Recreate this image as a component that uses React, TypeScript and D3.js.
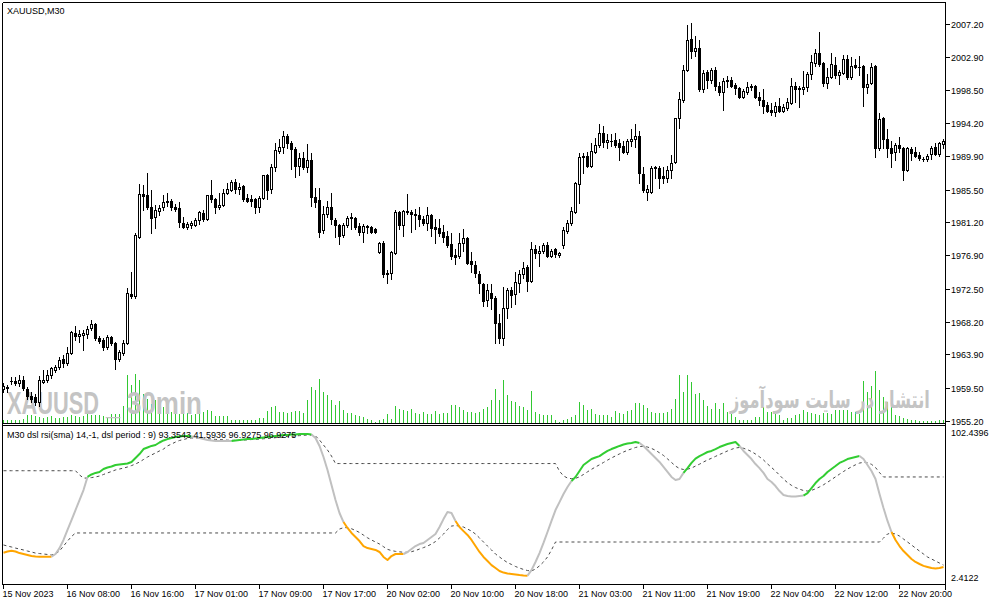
import React, { useLayoutEffect, useRef } from "react";
import * as d3 from "d3";

const SYMBOL_LABEL = "XAUUSD,M30";
const IND_LABEL = "M30 dsl rsi(sma) 14,-1, dsl period : 9) 93.3543 41.5936 96.9275 96.9275";
const WM_SYMBOL = "XAUUSD";
const WM_SEP = "_";
const WM_TF = "30min";
const WM_RIGHT = "انتشار در سایت سودآموز";

const PRICE_MIN = 1955.2;
const PRICE_MAX = 2007.2;
const PRICE_TICKS = [2007.2, 2002.9, 1998.5, 1994.2, 1989.9, 1985.5, 1981.2, 1976.9, 1972.5, 1968.2, 1963.9, 1959.5, 1955.2];
const IND_MIN = 2.4122;
const IND_MAX = 102.4396;
const VOL_MAX = 1500;

const TIME_LABELS = ["15 Nov 2023", "16 Nov 08:00", "16 Nov 16:00", "17 Nov 01:00", "17 Nov 09:00", "17 Nov 17:00", "20 Nov 02:00", "20 Nov 10:00", "20 Nov 18:00", "21 Nov 03:00", "21 Nov 11:00", "21 Nov 19:00", "22 Nov 04:00", "22 Nov 12:00", "22 Nov 20:00"];
const TIME_LABEL_BARS = [0, 16, 32, 48, 64, 80, 96, 112, 128, 144, 160, 176, 192, 208, 224];

const OPEN = [
  1959.3, 1959.6, 1960.4, 1960.4, 1960.1, 1960.6, 1959.3, 1958.5, 1958.3, 1957.6,
  1960.3, 1960.5, 1961.2, 1961.8, 1962.3, 1963.3, 1962.7, 1964.1, 1966.7, 1966.3,
  1966.4, 1966.5, 1967.3, 1967.9, 1966.0, 1965.8, 1964.8, 1966.2, 1965.4, 1963.3,
  1964.1, 1965.4, 1971.8, 1971.5, 1979.3, 1984.9, 1984.8, 1983.2, 1981.9, 1982.7,
  1983.2, 1983.9, 1984.0, 1983.2, 1983.1, 1981.1, 1980.6, 1980.8, 1980.8, 1981.5,
  1982.4, 1981.6, 1984.8, 1984.3, 1983.2, 1983.5, 1985.0, 1985.4, 1986.5, 1985.6,
  1986.0, 1984.4, 1984.3, 1984.3, 1983.2, 1984.4, 1987.4, 1985.6, 1988.4, 1990.5,
  1991.1, 1992.5, 1991.6, 1990.8, 1988.6, 1989.6, 1988.4, 1989.4, 1984.5, 1984.1,
  1980.2, 1982.3, 1983.2, 1981.5, 1980.8, 1979.5, 1980.8, 1981.8, 1981.8, 1980.7,
  1980.0, 1980.7, 1980.6, 1980.3, 1977.3, 1978.5, 1974.5, 1974.5, 1977.2, 1982.5,
  1980.8, 1982.5, 1982.5, 1982.3, 1982.1, 1981.6, 1981.1, 1982.1, 1980.6, 1980.4,
  1979.9, 1979.4, 1978.3, 1976.9, 1976.8, 1978.5, 1979.1, 1976.1, 1975.6, 1974.4,
  1973.1, 1971.0, 1972.0, 1971.3, 1968.0, 1966.0, 1970.0, 1972.3, 1971.8, 1973.2,
  1974.4, 1975.3, 1973.5, 1977.7, 1977.2, 1977.4, 1978.2, 1976.8, 1977.7, 1976.9,
  1978.2, 1980.1, 1981.1, 1982.5, 1986.2, 1989.9, 1989.9, 1988.6, 1990.4, 1991.3,
  1992.9, 1991.7, 1991.9, 1992.0, 1991.6, 1991.2, 1990.4, 1991.9, 1992.1, 1992.5,
  1987.5, 1985.2, 1985.2, 1988.4, 1988.3, 1987.3, 1987.0, 1988.1, 1989.1, 1994.9,
  1997.2, 2001.2, 2005.2, 2003.7, 2004.1, 1998.7, 2000.9, 1999.9, 2001.2, 1999.1,
  1998.3, 1999.9, 1999.9, 1999.2, 1998.8, 1997.6, 1998.3, 1999.1, 1999.1, 1997.6,
  1997.2, 1996.6, 1995.9, 1995.7, 1996.4, 1995.8, 1996.2, 1996.8, 1999.1, 1998.7,
  1998.7, 1998.9, 2000.6, 2002.1, 2003.4, 2002.1, 1999.5, 2000.3, 2001.8, 2000.5,
  2000.8, 2002.6, 2000.3, 2001.8, 2001.6, 2001.7, 1998.9, 1999.5, 2001.7, 1990.9,
  1994.9, 1992.1, 1990.9, 1990.4, 1991.3, 1990.9, 1988.1, 1990.8, 1990.4, 1990.0,
  1989.5, 1989.5, 1990.2, 1991.1, 1990.2, 1991.5,
];

const HIGH = [
  1960.1, 1959.9, 1960.9, 1960.9, 1961.2, 1961.0, 1959.6, 1958.9, 1958.7, 1961.0,
  1961.8, 1961.8, 1962.3, 1962.5, 1963.5, 1963.8, 1964.8, 1966.9, 1967.6, 1967.1,
  1967.1, 1967.6, 1968.4, 1968.0, 1966.3, 1966.0, 1966.4, 1966.3, 1965.5, 1964.5,
  1965.8, 1972.6, 1974.7, 1979.8, 1986.2, 1986.1, 1987.7, 1985.4, 1983.5, 1983.5,
  1984.8, 1985.0, 1984.2, 1983.6, 1983.9, 1981.9, 1981.2, 1981.4, 1981.8, 1982.7,
  1982.8, 1984.8, 1986.7, 1984.4, 1985.0, 1985.6, 1986.3, 1986.7, 1986.9, 1986.3,
  1986.1, 1984.9, 1984.8, 1984.4, 1984.6, 1987.4, 1987.5, 1988.8, 1991.6, 1992.1,
  1993.2, 1992.8, 1991.9, 1991.1, 1990.3, 1990.4, 1991.5, 1990.3, 1985.7, 1985.7,
  1983.3, 1984.0, 1985.0, 1981.8, 1981.0, 1981.1, 1982.0, 1982.4, 1981.9, 1981.1,
  1981.0, 1980.8, 1980.7, 1980.4, 1978.6, 1978.7, 1974.9, 1977.4, 1982.8, 1982.7,
  1982.8, 1984.9, 1982.8, 1983.0, 1983.2, 1982.0, 1983.2, 1982.3, 1981.6, 1981.6,
  1980.8, 1980.1, 1979.8, 1977.7, 1979.8, 1980.3, 1979.3, 1977.3, 1976.1, 1974.8,
  1973.2, 1973.1, 1973.1, 1971.5, 1969.2, 1972.7, 1972.6, 1972.7, 1974.7, 1974.9,
  1976.0, 1975.6, 1978.6, 1978.2, 1978.1, 1978.5, 1978.6, 1977.7, 1977.8, 1977.3,
  1980.6, 1981.5, 1983.2, 1986.5, 1990.3, 1990.3, 1990.4, 1991.6, 1992.3, 1994.1,
  1993.8, 1992.8, 1992.8, 1992.9, 1992.1, 1991.9, 1992.1, 1993.4, 1994.1, 1993.2,
  1988.4, 1986.1, 1988.6, 1988.6, 1988.6, 1988.4, 1988.6, 1990.0, 1994.9, 1998.3,
  2001.8, 2007.1, 2007.3, 2005.6, 2005.1, 2001.2, 2001.2, 2001.4, 2001.6, 1999.6,
  2000.1, 2000.4, 2000.3, 1999.5, 1998.9, 1998.7, 1999.6, 1999.3, 1999.2, 1998.3,
  1998.7, 1997.0, 1996.8, 1997.0, 1997.5, 1996.7, 1997.5, 2000.1, 1999.6, 1999.1,
  2001.0, 2000.9, 2003.1, 2003.9, 2006.2, 2002.2, 2001.4, 2003.4, 2002.9, 2001.2,
  2003.1, 2003.1, 2002.9, 2002.6, 2003.0, 2001.8, 2000.6, 2002.1, 2001.8, 1995.5,
  1995.0, 1993.4, 1991.9, 1991.6, 1992.4, 1991.1, 1991.1, 1991.1, 1991.1, 1990.4,
  1989.8, 1990.2, 1991.2, 1991.6, 1991.7, 1992.1,
];

const LOW = [
  1958.9, 1958.9, 1960.0, 1959.9, 1959.7, 1959.2, 1958.0, 1957.6, 1957.2, 1957.1,
  1960.1, 1960.3, 1960.8, 1961.6, 1962.0, 1962.3, 1962.5, 1963.9, 1965.8, 1965.5,
  1964.5, 1966.0, 1967.1, 1965.8, 1965.4, 1964.5, 1964.6, 1965.1, 1962.0, 1963.0,
  1963.8, 1965.2, 1971.3, 1971.3, 1979.1, 1982.8, 1983.0, 1979.8, 1980.4, 1982.2,
  1982.8, 1983.3, 1982.8, 1982.7, 1980.6, 1980.4, 1980.3, 1980.4, 1980.7, 1981.0,
  1981.4, 1981.5, 1983.9, 1982.4, 1983.0, 1983.3, 1984.9, 1985.3, 1985.0, 1984.9,
  1984.0, 1983.9, 1983.3, 1982.4, 1982.5, 1984.3, 1984.3, 1985.0, 1987.9, 1990.3,
  1990.3, 1991.0, 1988.2, 1987.1, 1987.4, 1988.2, 1987.8, 1983.3, 1983.2, 1979.3,
  1979.8, 1981.9, 1981.0, 1979.3, 1978.4, 1979.3, 1980.6, 1980.3, 1980.3, 1979.5,
  1978.6, 1979.8, 1979.8, 1979.8, 1977.2, 1974.0, 1973.2, 1973.8, 1977.0, 1980.3,
  1979.4, 1982.3, 1979.9, 1980.3, 1980.7, 1980.8, 1980.2, 1979.4, 1978.5, 1979.4,
  1978.6, 1978.0, 1976.4, 1975.7, 1976.5, 1977.4, 1975.7, 1974.7, 1974.0, 1971.9,
  1970.2, 1970.2, 1969.9, 1965.4, 1965.4, 1965.1, 1968.6, 1970.1, 1970.5, 1972.1,
  1973.9, 1972.2, 1973.4, 1976.5, 1975.5, 1977.2, 1976.6, 1976.6, 1976.6, 1976.6,
  1977.9, 1979.8, 1980.8, 1982.4, 1983.7, 1987.7, 1988.4, 1988.4, 1990.3, 1991.1,
  1991.1, 1991.0, 1991.2, 1991.1, 1989.4, 1990.3, 1990.2, 1991.2, 1991.1, 1986.3,
  1985.2, 1984.1, 1985.0, 1987.0, 1985.7, 1986.3, 1986.5, 1987.0, 1989.0, 1993.6,
  1997.0, 2001.0, 2002.7, 2003.0, 1998.4, 1998.3, 1998.8, 1999.5, 1998.5, 1997.9,
  1995.9, 1998.9, 1998.9, 1998.0, 1997.5, 1997.5, 1998.0, 1998.5, 1997.5, 1996.6,
  1995.5, 1995.7, 1995.3, 1995.1, 1995.7, 1995.7, 1995.9, 1996.7, 1997.0, 1996.3,
  1998.0, 1998.4, 2000.0, 2001.7, 2001.7, 1999.1, 1998.8, 2000.1, 2000.1, 1999.3,
  2000.6, 2000.0, 2000.0, 2001.4, 2000.5, 1996.4, 1998.1, 1999.3, 1989.8, 1990.7,
  1990.9, 1989.8, 1988.4, 1989.4, 1990.4, 1986.7, 1987.9, 1989.4, 1989.8, 1989.4,
  1989.2, 1989.2, 1989.5, 1990.0, 1989.9, 1990.9,
];

const CLOSE = [
  1959.7, 1959.5, 1960.4, 1960.1, 1960.5, 1959.5, 1958.5, 1958.0, 1957.6, 1960.6,
  1960.6, 1961.2, 1962.1, 1962.2, 1963.1, 1962.7, 1964.1, 1966.8, 1966.3, 1966.5,
  1966.7, 1967.2, 1967.9, 1966.0, 1965.6, 1964.8, 1966.2, 1965.4, 1963.3, 1964.2,
  1965.4, 1971.9, 1971.5, 1979.5, 1984.9, 1984.6, 1983.2, 1981.8, 1982.8, 1983.1,
  1983.9, 1984.0, 1983.2, 1982.9, 1981.2, 1980.6, 1981.0, 1981.1, 1981.5, 1982.5,
  1981.6, 1984.8, 1984.3, 1983.2, 1983.5, 1985.0, 1985.6, 1986.5, 1985.6, 1985.8,
  1984.3, 1984.0, 1984.0, 1983.2, 1984.4, 1987.4, 1985.4, 1988.4, 1990.7, 1991.1,
  1992.5, 1991.6, 1990.8, 1988.6, 1989.6, 1988.4, 1989.4, 1984.5, 1983.9, 1980.0,
  1982.3, 1983.2, 1981.6, 1980.8, 1979.4, 1980.8, 1981.8, 1981.9, 1980.6, 1980.0,
  1980.7, 1980.6, 1980.0, 1979.9, 1978.5, 1974.4, 1974.4, 1977.3, 1982.5, 1980.8,
  1982.7, 1982.7, 1982.3, 1982.1, 1981.6, 1981.1, 1982.1, 1980.4, 1980.3, 1979.8,
  1979.3, 1978.2, 1976.8, 1976.6, 1978.5, 1979.1, 1975.9, 1975.7, 1974.5, 1973.2,
  1970.9, 1972.3, 1971.3, 1968.0, 1966.0, 1970.0, 1972.3, 1971.7, 1973.4, 1974.4,
  1975.2, 1973.5, 1977.7, 1977.2, 1977.4, 1978.2, 1976.8, 1977.4, 1977.0, 1977.2,
  1980.2, 1981.1, 1982.7, 1986.3, 1989.8, 1989.8, 1988.6, 1990.5, 1991.3, 1992.9,
  1991.7, 1992.0, 1991.8, 1991.3, 1991.1, 1990.4, 1991.9, 1992.1, 1992.5, 1987.7,
  1985.4, 1985.6, 1988.3, 1988.3, 1987.0, 1987.0, 1988.1, 1989.0, 1994.9, 1997.4,
  2001.2, 2005.1, 2003.7, 2004.1, 1998.7, 2000.8, 1999.9, 2001.2, 1999.1, 1998.3,
  1999.7, 1999.7, 1999.1, 1998.8, 1997.6, 1998.4, 1998.9, 1998.9, 1997.6, 1997.2,
  1996.4, 1995.8, 1995.7, 1996.4, 1995.8, 1996.3, 1997.0, 1999.1, 1998.7, 1998.8,
  1998.9, 2000.6, 2002.2, 2003.4, 2002.0, 1999.5, 2000.3, 2002.0, 2000.5, 2000.9,
  2002.6, 2000.3, 2001.7, 2001.6, 2001.5, 1998.9, 1999.3, 2001.6, 1990.9, 1994.8,
  1992.1, 1990.9, 1990.3, 1991.3, 1990.9, 1988.1, 1990.9, 1990.3, 1989.9, 1989.6,
  1989.5, 1989.9, 1990.9, 1990.2, 1991.6, 1991.9,
];

const VOLUME = [
  80, 80, 80, 100, 100, 130, 230, 230, 200, 180,
  160, 180, 200, 160, 160, 180, 180, 230, 200, 180,
  200, 260, 230, 230, 230, 200, 160, 260, 280, 280,
  500, 1430, 1130, 1460, 1280, 880, 730, 580, 680, 480,
  480, 380, 330, 300, 280, 380, 300, 230, 280, 380,
  330, 400, 350, 200, 200, 200, 200, 100, 80, 80,
  80, 100, 80, 100, 160, 160, 350, 480, 510, 330,
  330, 300, 330, 350, 350, 300, 700, 1080, 980, 1310,
  930, 830, 680, 530, 660, 380, 300, 300, 230, 200,
  180, 130, 80, 30, 100, 130, 280, 130, 500, 430,
  380, 360, 430, 300, 280, 330, 260, 280, 360, 280,
  300, 300, 530, 530, 480, 380, 330, 330, 300, 330,
  430, 480, 700, 1030, 700, 1280, 830, 660, 640, 500,
  480, 380, 960, 330, 260, 230, 230, 230, 80, 40,
  80, 130, 180, 230, 620, 530, 380, 410, 260, 230,
  230, 230, 180, 350, 310, 280, 350, 380, 600, 610,
  530, 450, 330, 300, 300, 300, 330, 430, 730, 1430,
  930, 1430, 1230, 880, 900, 680, 500, 430, 600, 430,
  600, 330, 260, 180, 80, 80, 100, 100, 180, 180,
  480, 330, 330, 300, 230, 100, 160, 160, 230, 260,
  380, 330, 300, 260, 230, 300, 300, 280, 400, 380,
  380, 380, 330, 330, 280, 1260, 930, 1100, 1550, 1000,
  780, 630, 480, 230, 200, 160, 130, 100, 100, 60,
  60, 60, 60, 60, 80, 80,
];

const RSI = [
  21.8, 22.6, 23.1, 22.6, 21.6, 21.0, 20.4, 19.7, 19.4, 19.3,
  19.3, 19.3, 19.3, 21.0, 24.8, 30.0, 36.4, 42.8, 49.2, 55.6,
  62.0, 70.4, 72.0, 73.0, 73.6, 75.5, 76.5, 77.1, 78.1, 78.4,
  78.7, 79.0, 80.0, 82.6, 85.1, 88.3, 89.3, 90.3, 90.9, 92.5,
  93.8, 94.7, 95.4, 96.0, 96.4, 96.7, 96.7, 96.4, 96.0, 95.4,
  94.7, 94.1, 93.8, 93.5, 93.5, 93.5, 93.5, 93.5, 93.8, 94.1,
  94.4, 94.7, 94.7, 95.1, 95.4, 95.7, 96.0, 96.4, 96.7, 97.0,
  97.3, 97.3, 97.6, 97.6, 98.0, 98.0, 98.0, 97.6, 95.4, 90.3,
  83.2, 74.9, 65.2, 55.6, 47.3, 41.5, 37.7, 34.5, 31.9, 29.3,
  26.1, 24.8, 24.2, 23.6, 22.3, 19.1, 17.2, 19.7, 21.0, 21.0,
  21.0, 22.3, 24.2, 26.1, 27.4, 28.1, 30.0, 31.9, 33.8, 38.3,
  43.4, 47.9, 47.3, 42.2, 38.3, 35.7, 33.2, 30.0, 26.1, 22.3,
  19.1, 16.5, 13.9, 12.0, 10.1, 9.1, 8.5, 8.2, 7.9, 7.5,
  7.2, 7.1, 10.7, 15.9, 21.6, 28.1, 35.1, 42.2, 49.2, 54.3,
  59.5, 64.0, 67.8, 70.4, 74.2, 78.1, 80.0, 81.9, 82.9, 83.8,
  85.5, 87.1, 88.3, 89.3, 90.3, 91.2, 91.9, 92.2, 92.8, 92.2,
  90.3, 87.7, 85.1, 82.6, 80.0, 76.8, 73.6, 70.4, 68.5, 69.1,
  73.0, 76.1, 79.4, 82.2, 83.8, 85.1, 86.4, 87.1, 88.3, 89.6,
  90.6, 91.5, 92.2, 92.8, 90.3, 87.1, 84.5, 81.9, 78.7, 76.1,
  73.0, 69.1, 67.2, 64.6, 61.4, 58.8, 58.2, 57.9, 57.9, 58.2,
  58.5, 60.1, 63.3, 66.5, 69.1, 71.0, 73.6, 75.5, 77.4, 79.4,
  80.6, 81.9, 82.6, 83.2, 83.8, 81.9, 78.1, 74.2, 69.1, 59.5,
  50.5, 42.2, 35.1, 30.0, 26.1, 22.9, 20.4, 17.8, 15.9, 14.6,
  13.4, 12.7, 12.0, 11.7, 12.0, 12.7,
];

const LEVEL_UP = [
  74.4, 74.4, 74.4, 74.4, 74.4, 74.4, 74.4, 74.4, 74.4, 74.4,
  74.4, 74.4, 74.4, 74.4, 74.4, 74.4, 74.4, 74.4, 74.4, 71.7,
  69.7, 69.7, 70.0, 70.4, 71.0, 72.0, 73.0, 73.9, 74.9, 75.5,
  76.1, 76.8, 77.7, 78.7, 80.0, 81.6, 83.2, 84.5, 85.8, 87.1,
  88.3, 90.3, 91.5, 92.8, 93.8, 94.4, 95.1, 95.4, 95.4, 95.4,
  95.2, 95.0, 94.7, 94.5, 94.4, 94.2, 94.0, 93.9, 93.9, 93.9,
  94.1, 94.2, 94.4, 94.5, 94.7, 94.9, 95.1, 95.3, 95.6, 95.8,
  96.1, 96.4, 96.5, 96.7, 96.9, 97.1, 97.3, 97.3, 96.7, 94.1,
  90.9, 87.7, 83.8, 79.0, 79.0, 79.0, 79.0, 79.0, 79.0, 79.0,
  79.0, 79.0, 79.0, 79.0, 79.0, 79.0, 79.0, 79.0, 79.0, 79.0,
  79.0, 79.0, 79.0, 79.0, 79.0, 79.0, 79.0, 79.0, 79.0, 79.0,
  79.0, 79.0, 79.0, 79.0, 79.0, 79.0, 79.0, 79.0, 79.0, 79.0,
  79.0, 79.0, 79.0, 79.0, 79.0, 79.0, 79.0, 79.0, 79.0, 79.0,
  79.0, 79.0, 79.0, 79.0, 79.0, 79.0, 79.0, 79.0, 79.0, 74.1,
  71.1, 69.7, 69.3, 69.5, 70.5, 72.0, 73.7, 75.3, 76.8, 78.2,
  79.7, 81.2, 82.6, 83.9, 85.2, 86.4, 87.5, 88.4, 89.3, 89.9,
  90.1, 89.6, 88.7, 87.5, 85.9, 84.2, 82.0, 79.7, 77.4, 75.8,
  75.2, 75.4, 76.1, 77.4, 78.6, 80.0, 81.3, 82.4, 83.6, 84.8,
  85.9, 87.1, 88.1, 89.0, 89.3, 88.8, 87.9, 86.7, 85.1, 83.3,
  81.3, 78.8, 76.5, 74.2, 71.6, 69.0, 66.8, 65.0, 63.6, 62.6,
  61.7, 61.4, 61.8, 62.8, 64.0, 65.4, 67.0, 68.7, 70.5, 72.2,
  73.9, 75.5, 76.9, 78.2, 79.3, 79.8, 79.5, 78.5, 76.5, 73.2,
  70.4, 70.4, 70.4, 70.4, 70.4, 70.4, 70.4, 70.4, 70.4, 70.4,
  70.4, 70.4, 70.4, 70.4, 70.4, 70.4,
];

const LEVEL_DN = [
  26.8, 26.1, 25.5, 24.8, 24.2, 23.6, 22.9, 22.3, 21.6, 21.3,
  21.0, 20.7, 20.4, 21.0, 22.9, 26.1, 29.3, 32.2, 34.5, 34.5,
  34.5, 34.5, 34.5, 34.5, 34.5, 34.5, 34.5, 34.5, 34.5, 34.5,
  34.5, 34.5, 34.5, 34.5, 34.5, 34.5, 34.5, 34.5, 34.5, 34.5,
  34.5, 34.5, 34.5, 34.5, 34.5, 34.5, 34.5, 34.5, 34.5, 34.5,
  34.5, 34.5, 34.5, 34.5, 34.5, 34.5, 34.5, 34.5, 34.5, 34.5,
  34.5, 34.5, 34.5, 34.5, 34.5, 34.5, 34.5, 34.5, 34.5, 34.5,
  34.5, 34.5, 34.5, 34.5, 34.5, 34.5, 34.5, 34.5, 34.5, 34.5,
  34.5, 34.5, 34.5, 34.5, 37.0, 37.9, 37.9, 37.2, 36.1, 34.8,
  33.1, 31.4, 30.0, 28.7, 27.4, 25.7, 24.0, 23.2, 22.7, 22.4,
  22.1, 22.1, 22.5, 23.2, 24.2, 25.1, 26.1, 27.4, 29.0, 31.3,
  33.8, 36.7, 38.9, 39.3, 38.9, 38.3, 37.0, 35.7, 33.8, 31.3,
  28.7, 26.1, 23.6, 21.0, 19.1, 17.2, 15.5, 14.3, 13.0, 12.0,
  11.1, 10.4, 10.1, 11.4, 13.4, 15.9, 19.1, 23.6, 28.7, 28.7,
  28.7, 28.7, 28.7, 28.7, 28.7, 28.7, 28.7, 28.7, 28.7, 28.7,
  28.7, 28.7, 28.7, 28.7, 28.7, 28.7, 28.7, 28.7, 28.7, 28.7,
  28.7, 28.7, 28.7, 28.7, 28.7, 28.7, 28.7, 28.7, 28.7, 28.7,
  28.7, 28.7, 28.7, 28.7, 28.7, 28.7, 28.7, 28.7, 28.7, 28.7,
  28.7, 28.7, 28.7, 28.7, 28.7, 28.7, 28.7, 28.7, 28.7, 28.7,
  28.7, 28.7, 28.7, 28.7, 28.7, 28.7, 28.7, 28.7, 28.7, 28.7,
  28.7, 28.7, 28.7, 28.7, 28.7, 28.7, 28.7, 28.7, 28.7, 28.7,
  28.7, 28.7, 28.7, 28.7, 28.7, 28.7, 28.7, 28.7, 28.7, 28.7,
  31.2, 33.8, 34.5, 33.8, 32.5, 30.6, 28.7, 26.8, 24.8, 22.9,
  21.0, 19.1, 17.8, 16.5, 15.2, 13.9,
];

// colour state of the RSI line, read per run of bars: [fromBar, toBar, state]
const RSI_RUNS: [number, number, string][] = [
  [0, 12, "dn"], [12, 21, "mid"], [21, 47, "up"], [47, 57, "mid"], [57, 77, "up"],
  [77, 85, "mid"], [85, 100, "dn"], [100, 113, "mid"], [113, 131, "dn"], [131, 142, "mid"],
  [142, 159, "up"], [159, 170, "mid"], [170, 184, "up"], [184, 200, "mid"], [200, 214, "up"],
  [214, 222, "mid"], [222, 235, "dn"],
];

const STATE_COLORS: Record<string, string> = { up: "#32cd32", dn: "#ffa500", mid: "#c0c0c0" };
const VOL_COLOR = "#32c832";
const WM_COLOR = "#c4c4c4";
const FONT = "'Liberation Sans', Arial, sans-serif";

// watermark text boxes: [text, left x, target width]
const WATERMARKS: [string, number, number, number, string][] = [
  [WM_SYMBOL, 7, 92, 414.5, FONT],
  [WM_SEP, 106, 14, 414.5, FONT],
  [WM_TF, 127, 75, 414.5, FONT],
  [WM_RIGHT, 730, 200, 408, "'DejaVu Sans', sans-serif"],
];

export default function App() {
  const wmRefs = useRef<(SVGTextElement | null)[]>([]);

  useLayoutEffect(() => {
    WATERMARKS.forEach(([, x0, target], k) => {
      const el = wmRefs.current[k];
      if (!el) return;
      el.removeAttribute("transform");
      const w = el.getComputedTextLength();
      if (w > 0) {
        const s = target / w;
        el.setAttribute("transform", `translate(${x0},0) scale(${s},1) translate(${-x0},0)`);
      }
    });
  }, []);

  const n = OPEN.length;
  const x = d3.scaleLinear().domain([0, n - 1]).range([3.5, 943.5]);
  const yP = d3.scaleLinear().domain([PRICE_MIN, PRICE_MAX]).range([420.7, 24]);
  const yV = d3.scaleLinear().domain([0, VOL_MAX]).range([423, 373]);
  const yI = d3.scaleLinear().domain([IND_MIN, IND_MAX]).range([583, 427]);

  const levelLine = d3.line<number>().x((_, i) => x(i)).y((d) => yI(d));
  const rsiLine = d3.line<number>().x((i) => x(i)).y((i) => yI(RSI[i]));

  return (
    <svg
      width={991}
      height={605}
      style={{ position: "absolute", left: 0, top: 0, display: "block", background: "#fff" }}
    >
      <rect x={0} y={0} width={991} height={605} fill="#fff" />

      {/* volumes */}
      <g shapeRendering="crispEdges">
        {VOLUME.map((v, i) => (
          <line key={"v" + i} x1={x(i)} x2={x(i)} y1={423} y2={Math.round(yV(v))} stroke={VOL_COLOR} strokeWidth={1} />
        ))}
      </g>

      {/* watermarks */}
      {WATERMARKS.map(([t, x0, , yb, ff], k) => (
        <text
          key={"wm" + k}
          ref={(el) => { wmRefs.current[k] = el; }}
          x={x0}
          y={yb}
          fill={WM_COLOR}
          fontWeight="bold"
          fontFamily={ff}
          fontSize={k === 3 ? 24 : 31}
        >
          {t}
        </text>
      ))}

      {/* candles */}
      <g shapeRendering="crispEdges">
        {OPEN.map((o, i) => {
          const c = CLOSE[i];
          const cx = x(i);
          const yh = Math.round(yP(HIGH[i]));
          const yl = Math.round(yP(LOW[i]));
          const yt = Math.round(yP(Math.max(o, c)));
          const yb = Math.round(yP(Math.min(o, c)));
          const bull = c >= o;
          return (
            <g key={"c" + i}>
              <line x1={cx} x2={cx} y1={yh} y2={yl + 1} stroke="#000" strokeWidth={1} />
              {bull ? (
                yb - yt >= 1 ? (
                  <rect x={cx - 1} y={yt + 0.5} width={2} height={yb - yt} fill="#fff" stroke="#000" strokeWidth={1} />
                ) : (
                  <line x1={cx - 1.5} x2={cx + 1.5} y1={yt + 0.5} y2={yt + 0.5} stroke="#000" strokeWidth={1} />
                )
              ) : (
                <rect x={cx - 1.5} y={yt} width={3} height={Math.max(yb - yt + 1, 1)} fill="#000" />
              )}
            </g>
          );
        })}
      </g>

      {/* indicator levels */}
      <path d={levelLine(LEVEL_UP) || ""} fill="none" stroke="#4a4a4a" strokeWidth={1} strokeDasharray="3,3" />
      <path d={levelLine(LEVEL_DN) || ""} fill="none" stroke="#4a4a4a" strokeWidth={1} strokeDasharray="3,3" />

      {/* RSI coloured runs */}
      {RSI_RUNS.map(([a, b, s], k) => (
        <path key={"r" + k} d={rsiLine(d3.range(a, b + 1)) || ""} fill="none" stroke={STATE_COLORS[s]} strokeWidth={2} strokeLinejoin="round" />
      ))}

      {/* frames */}
      <g shapeRendering="crispEdges" stroke="#000" strokeWidth={1} fill="none">
        <line x1={2.5} x2={945.5} y1={2.5} y2={2.5} />
        <line x1={2.5} x2={2.5} y1={2.5} y2={584.5} />
        <line x1={945.5} x2={945.5} y1={2.5} y2={590} />
        <line x1={2.5} x2={945.5} y1={423.5} y2={423.5} />
        <line x1={2.5} x2={945.5} y1={425.5} y2={425.5} />
        <line x1={2.5} x2={945.5} y1={584.5} y2={584.5} />
      </g>

      {/* price axis */}
      <g fontFamily={FONT} fontSize={9} fill="#000">
        {PRICE_TICKS.map((t) => {
          const yy = Math.round(yP(t)) + 0.5;
          return (
            <g key={"p" + t}>
              <line x1={946} x2={950} y1={yy} y2={yy} stroke="#000" shapeRendering="crispEdges" />
              <text x={951} y={yy + 3.5}>{t.toFixed(2)}</text>
            </g>
          );
        })}
        <text x={951} y={yI(IND_MAX) + 8.5}>{IND_MAX.toFixed(4)}</text>
        <text x={951} y={yI(IND_MIN) - 2.5}>{IND_MIN.toFixed(4)}</text>
      </g>

      {/* time axis */}
      <g fontFamily={FONT} fontSize={9} fill="#000">
        {TIME_LABEL_BARS.map((b, k) => (
          <g key={"t" + k}>
            <line x1={x(b)} x2={x(b)} y1={585} y2={589} stroke="#000" shapeRendering="crispEdges" />
            <text x={x(b) - 1} y={597}>{TIME_LABELS[k]}</text>
          </g>
        ))}
      </g>

      {/* labels */}
      <text x={7} y={14} fontFamily={FONT} fontSize={9} fill="#000">{SYMBOL_LABEL}</text>
      <text x={7} y={438} fontFamily={FONT} fontSize={9} fill="#000">{IND_LABEL}</text>
    </svg>
  );
}
